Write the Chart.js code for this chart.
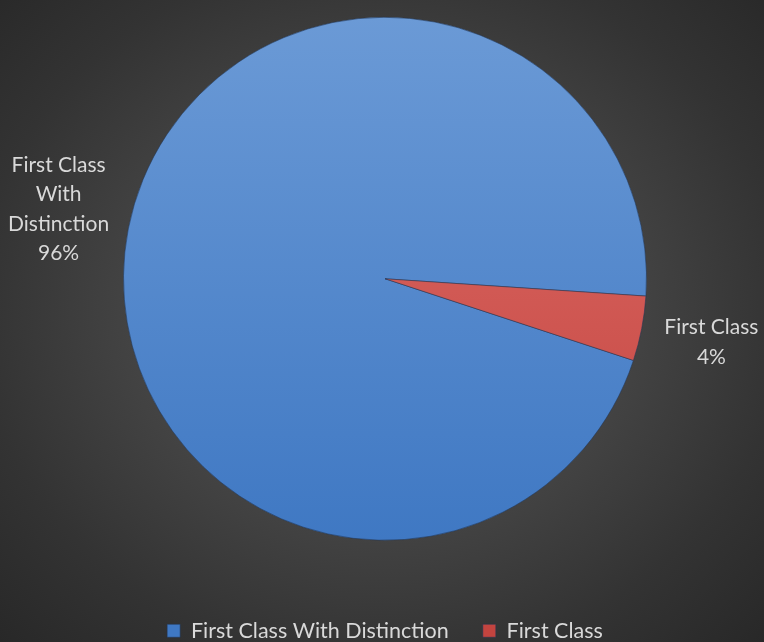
<!DOCTYPE html>
<html>
<head>
<meta charset="utf-8">
<script src="https://cdn.jsdelivr.net/npm/chart.js@4.4.1/dist/chart.umd.min.js"></script>
<style>
    html, body { margin: 0; padding: 0; }
    body { width: 764px; height: 642px; overflow: hidden; }
    .wrap {
        width: 764px; height: 642px;
        background: radial-gradient(ellipse at 50% 48%, #585858 0%, #474747 40%, #333333 75%, #282828 100%);
    }
    canvas { display: block; }
</style>
</head>
<body>
<div class="wrap">
    <canvas id="gradeChart" width="764" height="642"></canvas>
</div>
<script>
// Du lieu bieu do
const categories = ["First Class With Distinction", "First Class"];
const shares = [96, 4];
const labelLines = [["First Class", "With", "Distinction"], ["First Class"]];
const topColors = ["#6b9ad6", "#e0706b"];
const bottomColors = ["#3f78c3", "#c3443f"];

const textColor = "#d9d9d9";
const fontFamily = "Lato, 'Open Sans', sans-serif";

// Mau gradient theo chieu doc cua vung bieu do
function sliceFill(ctx) {
    const i = ctx.dataIndex;
    const area = ctx.chart.chartArea;
    if (!area) return bottomColors[i];
    const g = ctx.chart.ctx.createLinearGradient(0, area.top, 0, area.bottom);
    g.addColorStop(0, topColors[i]);
    g.addColorStop(1, bottomColors[i]);
    return g;
}

// Nhan ben ngoai moi lat banh
const outsideLabels = {
    id: "outsideLabels",
    afterDatasetsDraw(chart) {
        const meta = chart.getDatasetMeta(0);
        const total = shares.reduce((s, v) => s + v, 0);
        const c = chart.ctx;
        c.save();
        c.fillStyle = textColor;
        c.font = "21px " + fontFamily;
        c.textAlign = "center";
        c.textBaseline = "middle";
        meta.data.forEach((arc, i) => {
            const p = arc.getProps(["x", "y", "startAngle", "endAngle", "outerRadius"], true);
            const mid = (p.startAngle + p.endAngle) / 2;
            const r = p.outerRadius + 71;
            const lines = labelLines[i].concat([Math.round(shares[i] / total * 100) + "%"]);
            const lh = 29.5;
            const cx = p.x + Math.cos(mid) * r;
            // nhan nhieu dong dat cao hon mot chut
            const cy = p.y + Math.sin(mid) * r - (lines.length > 2 ? 6 : 0);
            const y0 = cy - (lines.length - 1) * lh / 2;
            lines.forEach((t, k) => c.fillText(t, cx, y0 + k * lh));
        });
        c.restore();
    }
};

new Chart(document.getElementById("gradeChart"), {
    type: "pie",
    data: {
        labels: categories,
        datasets: [{
            data: shares,
            backgroundColor: sliceFill,
            borderColor: "rgba(35,55,85,0.55)",
            borderWidth: 1
        }]
    },
    options: {
        responsive: false,
        animation: false,
        rotation: 108.2,
        layout: { padding: { top: 16, left: 123, right: 117, bottom: -9.5 } },
        plugins: {
            tooltip: { enabled: false },
            legend: {
                position: "bottom",
                title: { display: true, text: "", font: { size: 10 }, padding: { top: 32.5, bottom: 0 } },
                labels: {
                    color: textColor,
                    font: { size: 21.5, family: fontFamily },
                    boxWidth: 13,
                    boxHeight: 13,
                    padding: 34
                }
            }
        }
    },
    plugins: [outsideLabels]
});
</script>
</body>
</html>
